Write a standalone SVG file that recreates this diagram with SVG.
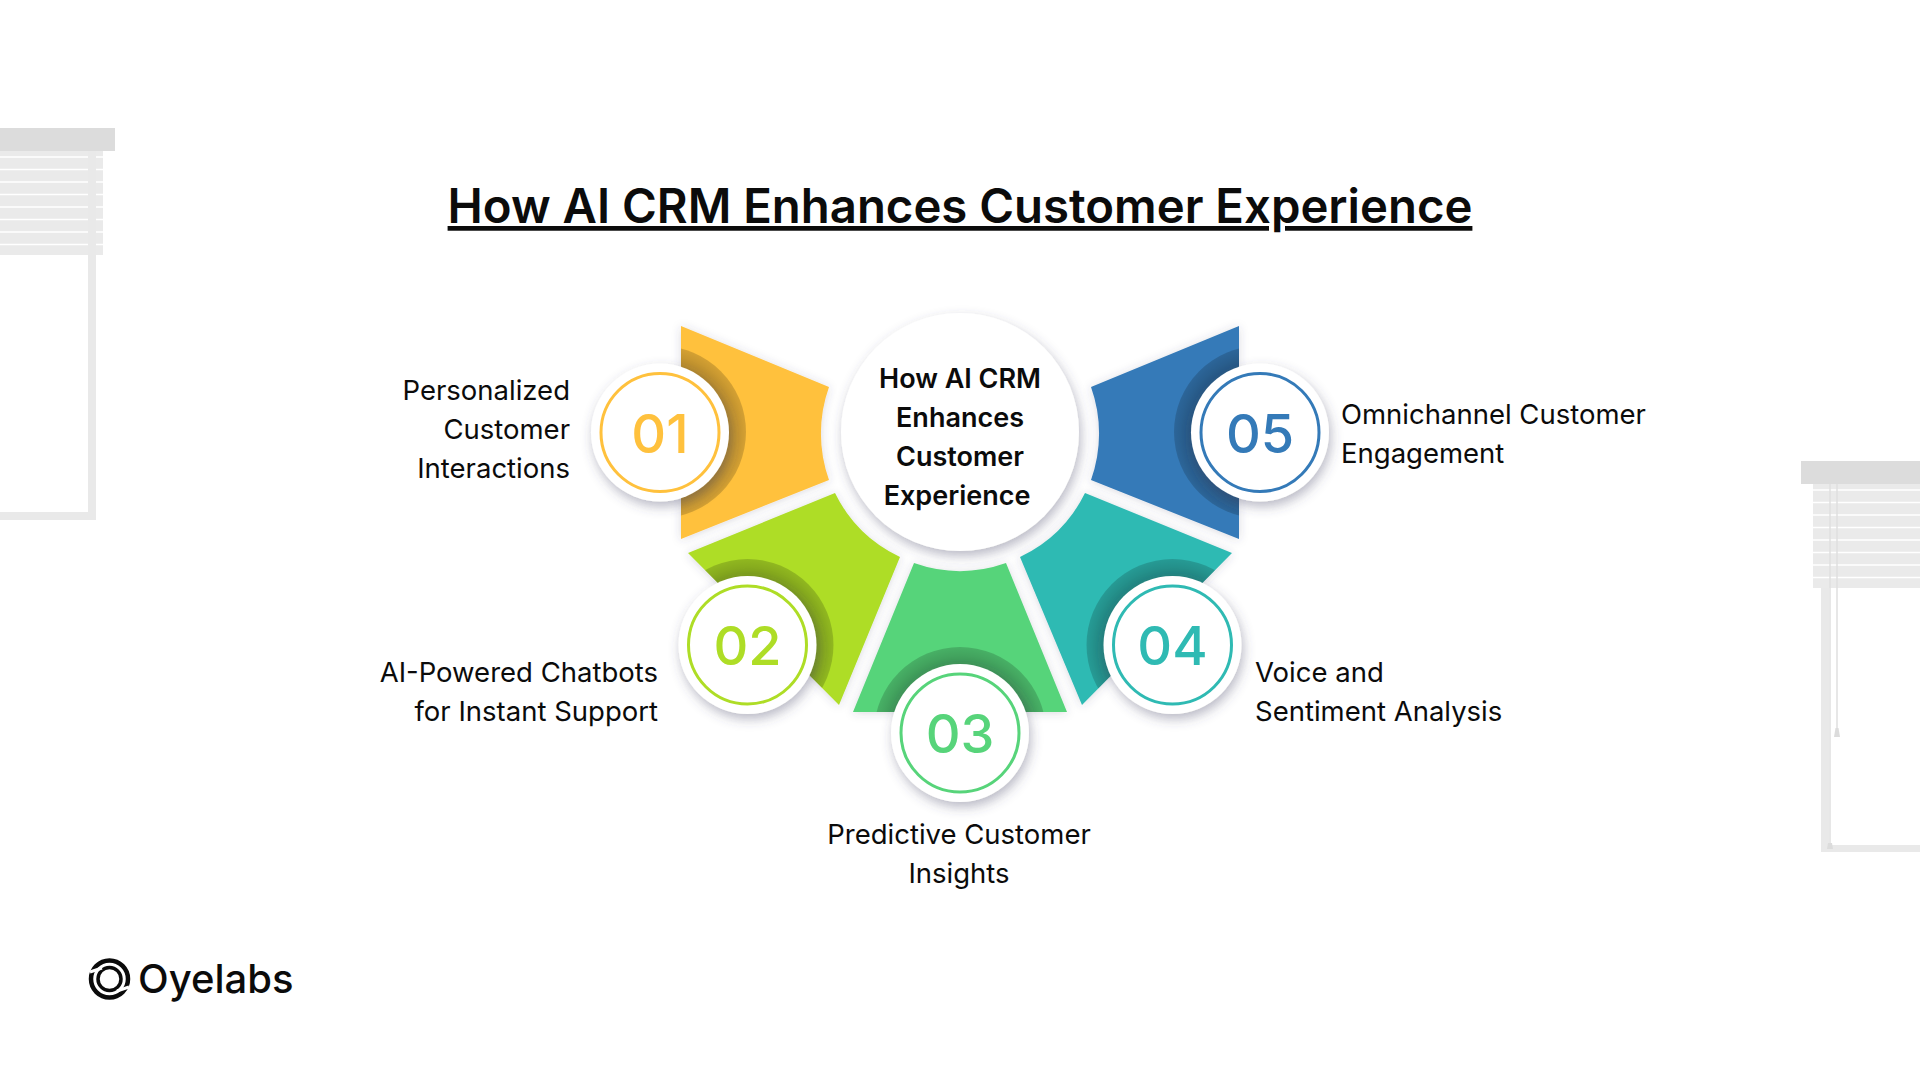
<svg xmlns="http://www.w3.org/2000/svg" width="1920" height="1080" viewBox="0 0 1920 1080">
<style>
text{font-family:"Inter","Liberation Sans",sans-serif;fill:#0b0b0b}
.t{font-size:27.500px;font-weight:400}
.c{font-size:27px;font-weight:600;text-anchor:middle}
.n{font-size:54px;font-weight:500;text-anchor:middle}
.m{text-anchor:middle}.e{text-anchor:end}
.disc{fill:#fff;filter:url(#sh)}
.ring{fill:#fff;stroke-width:3}
.seg{filter:url(#ss)}
.dk{fill:url(#dk)}
.bl{fill:#eaeaea}.hd{fill:#dcdcdc}.fr{fill:#e9e9e9}.sl{stroke:#fff;stroke-width:1.6}
</style>
<defs>
<filter id="sh" x="-30%" y="-30%" width="160%" height="160%"><feDropShadow dx="2" dy="5" stdDeviation="6" flood-color="#4a4668" flood-opacity=".38"/></filter>
<filter id="ss" x="-15%" y="-15%" width="130%" height="130%"><feDropShadow dx="0" dy="1" stdDeviation="5" flood-color="#4a4668" flood-opacity=".2"/></filter>
<radialGradient id="dk"><stop offset=".78" stop-color="#000" stop-opacity=".3"/><stop offset="1" stop-color="#000" stop-opacity=".17"/></radialGradient>
<path id="p1" d="M681 326L829 387A138 138 0 0 0 829 480L681 539Z"/>
<path id="p2" d="M688 553L835 493A138 138 0 0 0 900 557L839 705Z"/>
<path id="p3" d="M914 563A138 138 0 0 0 1006 563L1067 712L853 712Z"/>
<path id="p4" d="M1232 553L1085 493A138 138 0 0 1 1020 557L1082 705Z"/>
<path id="p5" d="M1239 326L1091 387A138 138 0 0 1 1091 480L1239 539Z"/>
<clipPath id="c1"><use href="#p1"/></clipPath>
<clipPath id="c2"><use href="#p2"/></clipPath>
<clipPath id="c3"><use href="#p3"/></clipPath>
<clipPath id="c4"><use href="#p4"/></clipPath>
<clipPath id="c5"><use href="#p5"/></clipPath>
</defs>
<rect width="1920" height="1080" fill="#fff"/>
<g id="blind-left">
<rect class="fr" x="88" y="151" width="8" height="369"/><rect class="fr" x="0" y="512" width="96" height="8"/>
<rect class="bl" x="0" y="151" width="103" height="104"/>
<rect class="fr" x="88" y="151" width="8" height="104"/>
<path class="sl" d="M0 157H88M96 157H103M0 169.500H88M96 169.500H103M0 182H88M96 182H103M0 194.500H88M96 194.500H103M0 207H88M96 207H103M0 219.500H88M96 219.500H103M0 232H88M96 232H103M0 244.500H88M96 244.500H103"/>
<rect class="hd" x="0" y="128" width="115" height="23"/>
</g>
<g id="blind-right">
<rect class="fr" x="1821" y="484" width="8" height="368"/><rect class="fr" x="1821" y="845" width="99" height="7"/>
<rect class="bl" x="1813" y="484" width="107" height="104"/>
<path class="sl" d="M1813 490H1920M1813 502.500H1920M1813 515H1920M1813 527.500H1920M1813 540H1920M1813 552.500H1920M1813 565H1920M1813 577.500H1920"/>
<path d="M1830 484V845M1837 484V728" stroke="#dfdfdf" stroke-width="1.500" fill="none"/>
<path d="M1835.500 728H1838.500L1840 737H1834Z" fill="#dcdcdc"/>
<path d="M1828 843H1832L1833 849H1827Z" fill="#dcdcdc"/>
<rect class="hd" x="1801" y="461" width="119" height="23"/>
</g>
<text id="title" x="960" y="223" text-anchor="middle" style="font-size:47.300px;font-weight:600;text-decoration:underline;text-decoration-thickness:2.500px;text-underline-offset:6px">How AI CRM Enhances Customer Experience</text>
<g id="connectors"/>
<g id="node-01">
<use href="#p1" class="seg" fill="#ffc13d"/>
<circle class="dk" cx="660" cy="432" r="86" clip-path="url(#c1)"/>
<circle class="disc" cx="660" cy="432.500" r="69"/>
<circle class="ring" cx="660" cy="432.500" r="59" stroke="#ffc13d"/>
<text class="n" x="660" y="453" style="fill:#ffc13d">01</text>
<text class="t e" x="570" y="400">Personalized</text>
<text class="t e" x="570" y="439">Customer</text>
<text class="t e" x="570" y="478">Interactions</text>
</g>
<g id="node-02">
<use href="#p2" class="seg" fill="#aedd26"/>
<circle class="dk" cx="747.500" cy="645" r="86" clip-path="url(#c2)"/>
<circle class="disc" cx="747.500" cy="645" r="69"/>
<circle class="ring" cx="747.500" cy="645" r="59" stroke="#aedd26"/>
<text class="n" x="747.500" y="665" style="fill:#aedd26">02</text>
<text class="t e" x="658" y="682">AI-Powered Chatbots</text>
<text class="t e" x="658" y="721">for Instant Support</text>
</g>
<g id="node-03">
<use href="#p3" class="seg" fill="#57d47a"/>
<circle class="dk" cx="960" cy="733" r="86" clip-path="url(#c3)"/>
<circle class="disc" cx="960" cy="733" r="69"/>
<circle class="ring" cx="960" cy="733" r="59" stroke="#57d47a"/>
<text class="n" x="960" y="753" style="fill:#57d47a">03</text>
<text class="t m" x="959" y="844">Predictive Customer</text>
<text class="t m" x="959" y="883">Insights</text>
</g>
<g id="node-04">
<use href="#p4" class="seg" fill="#2fbab3"/>
<circle class="dk" cx="1172.500" cy="645" r="86" clip-path="url(#c4)"/>
<circle class="disc" cx="1172.500" cy="645" r="69"/>
<circle class="ring" cx="1172.500" cy="645" r="59" stroke="#2fbab3"/>
<text class="n" x="1172.500" y="665" style="fill:#2fbab3">04</text>
<text class="t" x="1255" y="682">Voice and</text>
<text class="t" x="1255" y="721">Sentiment Analysis</text>
</g>
<g id="node-05">
<use href="#p5" class="seg" fill="#347ab8"/>
<circle class="dk" cx="1260" cy="432" r="86" clip-path="url(#c5)"/>
<circle class="disc" cx="1260" cy="432.500" r="69"/>
<circle class="ring" cx="1260" cy="432.500" r="59" stroke="#347ab8"/>
<text class="n" x="1260" y="453" style="fill:#347ab8">05</text>
<text class="t" x="1341" y="424">Omnichannel Customer</text>
<text class="t" x="1341" y="463">Engagement</text>
</g>
<g id="center">
<circle class="disc" cx="960" cy="432" r="119"/>
<text class="c" x="960" y="388">How AI CRM</text>
<text class="c" x="960" y="427">Enhances</text>
<text class="c" x="960" y="466">Customer</text>
<text class="c" x="957" y="505">Experience</text>
</g>
<g id="logo">
<circle cx="109.500" cy="979" r="18.500" fill="none" stroke="#0b0b0b" stroke-width="4.500"/>
<circle cx="109.500" cy="979" r="11.500" fill="none" stroke="#0b0b0b" stroke-width="3.500"/>
<path d="M90 972L102 968M129 987L117 991" stroke="#fff" stroke-width="3" fill="none"/>
<text x="138" y="993" style="font-size:40px;font-weight:500">Oyelabs</text>
</g>
</svg>
